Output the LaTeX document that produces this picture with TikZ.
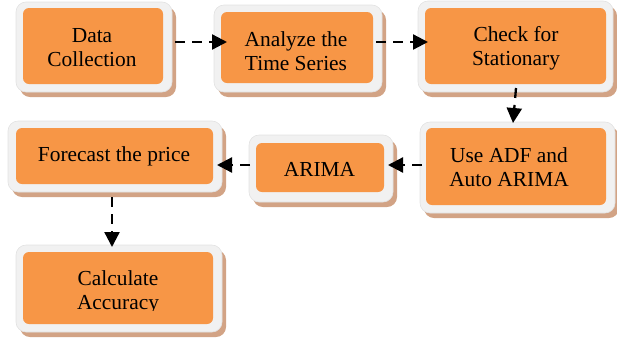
\documentclass[tikz,border=0pt]{standalone}
\usepackage{fontspec}
\setmainfont{Liberation Serif}
\usetikzlibrary{shadows,calc,arrows.meta}
\definecolor{boxorange}{HTML}{F79646}
\definecolor{boxframe}{HTML}{F1F1F1}
\definecolor{frameedge}{HTML}{E2E2E2}
\definecolor{shadowc}{HTML}{D2A385}
\tikzset{
  outerbox/.style={draw=frameedge, line width=0.6pt, fill=boxframe, rounded corners=10pt,
    drop shadow={shadow xshift=4pt, shadow yshift=-5pt, fill=shadowc, opacity=1},
    inner sep=0pt, outer sep=0pt},
  innerbox/.style={fill=boxorange, rounded corners=6pt, inner sep=0pt, outer sep=0pt},
  label/.style={font=\fontsize{21.4}{24}\selectfont, align=center, inner sep=0pt, text=black},
  conn/.style={line width=2.3pt, dash pattern=on 10pt off 7pt,
    -{Triangle[length=15pt,width=15pt]}}
}
\begin{document}
\begin{tikzpicture}[x=1pt,y=-1pt]
\useasboundingbox (0,0) rectangle (617,338);
% boxes
\node[outerbox, minimum width=156pt, minimum height=90pt] (o1) at (94,47) {};
\node[innerbox, minimum width=140pt, minimum height=76pt] (n1) at (93,46) {};
\node[outerbox, minimum width=168pt, minimum height=87pt] (o2) at (298,48.5) {};
\node[innerbox, minimum width=152pt, minimum height=71pt] (n2) at (297,47.5) {};
\node[outerbox, minimum width=195pt, minimum height=91pt] (o3) at (515.5,46.5) {};
\node[innerbox, minimum width=181pt, minimum height=76pt] (n3) at (515.5,46) {};
\node[outerbox, minimum width=195pt, minimum height=91pt] (o4) at (517.5,167.5) {};
\node[innerbox, minimum width=180pt, minimum height=77pt] (n4) at (516,166.5) {};
\node[outerbox, minimum width=144pt, minimum height=67pt] (o5) at (321,168.5) {};
\node[innerbox, minimum width=128pt, minimum height=49pt] (n5) at (320,167.5) {};
\node[outerbox, minimum width=214pt, minimum height=71pt] (o6) at (115,156.5) {};
\node[innerbox, minimum width=197pt, minimum height=56pt] (n6) at (114.5,156) {};
\node[outerbox, minimum width=206pt, minimum height=87pt] (o7) at (119,288.5) {};
\node[innerbox, minimum width=190pt, minimum height=72pt] (n7) at (118,288) {};
% texts
\node[label] (t1) at (92,47.5) {Data\\Collection};
\node[label] (t2) at (296,51) {Analyze the\\Time Series};
\node[label] (t3) at (516,48.5) {Check for\\Stationary};
\node[label] (t4) at (509,167.5) {Use ADF and\\Auto ARIMA};
\node[label] (t5) at (319.5,169.5) {ARIMA};
\node[label] (t6) at (114,156) {Forecast the price};
\begin{scope}
\clip (0,0) rectangle (617,310.5);
\node[label] (t7) at (118,292) {Calculate\\Accuracy};
\end{scope}
% connectors
\draw[conn] ($(o1.east)+(3,-5)$) -- ($(o2.west)+(13,-6.5)$);
\draw[conn] ($(o2.east)+(-6,-6.5)$) -- ($(o3.west)+(10,-4.5)$);
\draw[conn] ($(o3.south)+(0.5,-4)$) -- ($(o4.north)+(-4.5,1)$);
\draw[conn] ($(o4.west)+(2,-2.5)$) -- ($(o5.east)+(-5,-3.5)$);
\draw[conn] ($(o5.west)+(1,-3.5)$) -- ($(o6.east)+(-5,8.5)$);
\draw[conn] ($(o6.south)+(-3,5)$) -- ($(o7.north)+(-7,2)$);
\end{tikzpicture}
\end{document}
